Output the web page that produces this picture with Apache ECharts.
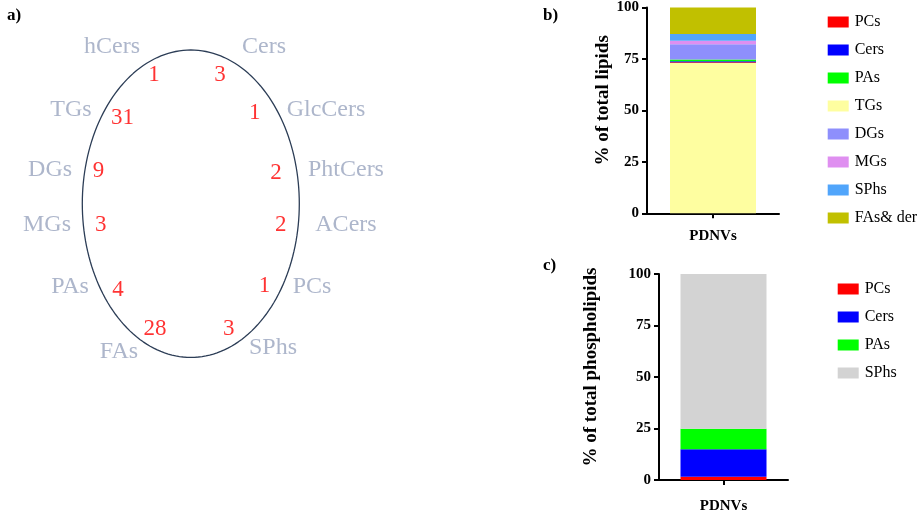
<!DOCTYPE html>
<html>
<head>
<meta charset="utf-8">
<script src="https://cdn.jsdelivr.net/npm/echarts@6/dist/echarts.min.js"></script>
<style>
html,body{margin:0;padding:0;background:#fff;}
#chart{width:920px;height:514px;}
</style>
</head>
<body>
<div id="chart"></div>
<script>
// ---- Data: panel a (lipid class counts) ----
const diagramNames  = ['hCers','Cers','GlcCers','PhtCers','ACers','PCs','SPhs','FAs','PAs','MGs','DGs','TGs'];
const diagramCounts = [1, 3, 1, 2, 2, 1, 3, 28, 4, 3, 9, 31];

// ---- Data: panel b (% of total lipids) ----
const lipidClasses = ['PCs','Cers','PAs','TGs','DGs','MGs','SPhs','FAs& der'];
const lipidPercent = [0.4, 0.5, 0.8, 73.0, 7.4, 1.8, 3.2, 12.9];

// ---- Data: panel c (% of total phospholipids) ----
const phosphoClasses = ['PCs','Cers','PAs','SPhs'];
const phosphoPercent = [1.6, 13.3, 10.0, 75.1];

const sampleCategory = ['PDNVs'];
const yTicks = [0, 25, 50, 75, 100];

// ---- Layout / style (not data) ----
// normalized positions around the unit ellipse (x right, y down)
const nameLayout = [[-0.726,-1.02],[0.675,-1.02],[1.246,-0.61],[1.43,-0.219],[1.43,0.139],[1.118,0.542],
                    [0.758,0.939],[-0.662,0.965],[-1.113,0.542],[-1.325,0.139],[-1.297,-0.219],[-1.104,-0.61]];
const countLayout = [[-0.34,-0.84],[0.27,-0.84],[0.59,-0.59],[0.785,-0.20],[0.83,0.14],[0.68,0.535],
                     [0.35,0.815],[-0.33,0.815],[-0.67,0.56],[-0.83,0.14],[-0.85,-0.21],[-0.63,-0.56]];
const stackOrderB = ['TGs','PCs','Cers','PAs','DGs','MGs','SPhs','FAs& der'];
const colorsB = {'PCs':'#ff0000','Cers':'#0000ff','PAs':'#00ff00','TGs':'#fefea0','DGs':'#8e8ffc',
                 'MGs':'#df8ff0','SPhs':'#51a5fb','FAs& der':'#c1c000'};
const colorsC = {'PCs':'#ff0000','Cers':'#0000ff','PAs':'#00ff00','SPhs':'#d3d3d3'};

const SERIF = 'Liberation Serif, Times New Roman, serif';

const ellipsePts = [];
for (let i = 0; i <= 180; i++) {
  const t = i / 180 * Math.PI * 2;
  ellipsePts.push([Math.cos(t), Math.sin(t)]);
}

const nameData = diagramNames.map((n, i) => [nameLayout[i][0], nameLayout[i][1], n]);
const countData = diagramCounts.map((c, i) => [countLayout[i][0], countLayout[i][1], String(c)]);

function valueAxis(gridIndex, nameText, nameGap) {
  return {
    gridIndex, type: 'value', min: 0, max: 100, interval: 25,
    axisLine: {show: true, lineStyle: {color: '#000', width: 2}},
    axisTick: {show: true, length: 5, lineStyle: {color: '#000', width: 2}},
    splitLine: {show: false},
    axisLabel: {color: '#000', fontFamily: SERIF, fontWeight: 'bold', fontSize: 15, margin: 8},
    name: nameText, nameLocation: 'middle', nameGap: nameGap, nameRotate: 90,
    nameTextStyle: {color: '#000', fontFamily: SERIF, fontWeight: 'bold', fontSize: 19, padding: [0,0,0,20]}
  };
}
function catAxis(gridIndex, margin) {
  return {
    gridIndex, type: 'category', data: sampleCategory,
    axisLine: {show: true, lineStyle: {color: '#000', width: 2}},
    axisTick: {show: true, alignWithLabel: true, length: 5, lineStyle: {color: '#000', width: 2}},
    axisLabel: {color: '#000', fontFamily: SERIF, fontWeight: 'bold', fontSize: 15, margin: margin}
  };
}
function legend(names, colors, left, top) {
  return {
    orient: 'vertical', left, top, itemWidth: 21, itemHeight: 11, itemGap: 12,
    selectedMode: false, icon: 'rect',
    data: names.map(n => ({name: n, itemStyle: {color: colors[n]}})),
    textStyle: {color: '#000', fontFamily: SERIF, fontSize: 16, padding: [0,0,0,1]}
  };
}

const series = [];
series.push({
  type: 'line', xAxisIndex: 0, yAxisIndex: 0, data: ellipsePts, showSymbol: false, symbol: 'none',
  lineStyle: {color: '#2c3d56', width: 1.3}, silent: true
});
series.push({
  type: 'scatter', xAxisIndex: 0, yAxisIndex: 0, data: nameData, symbolSize: 1,
  itemStyle: {color: 'transparent'},
  label: {show: true, position: 'inside', formatter: p => p.data[2], color: '#98a4be',
          fontFamily: SERIF, fontSize: 24, align: 'center', verticalAlign: 'middle'}
});
series.push({
  type: 'scatter', xAxisIndex: 0, yAxisIndex: 0, data: countData, symbolSize: 1,
  itemStyle: {color: 'transparent'},
  label: {show: true, position: 'inside', formatter: p => p.data[2], color: '#ff0000',
          fontFamily: SERIF, fontSize: 23, align: 'center', verticalAlign: 'middle'}
});
stackOrderB.forEach(n => {
  series.push({
    name: n, type: 'bar', xAxisIndex: 1, yAxisIndex: 1, stack: 'b', barWidth: 86,
    data: [lipidPercent[lipidClasses.indexOf(n)]], itemStyle: {color: colorsB[n]}
  });
});
phosphoClasses.forEach((n, i) => {
  series.push({
    name: n, type: 'bar', xAxisIndex: 2, yAxisIndex: 2, stack: 'c', barWidth: 86,
    data: [phosphoPercent[i]], itemStyle: {color: colorsC[n]}
  });
});

const option = {
  animation: false,
  backgroundColor: '#fff',
  title: [
    {text: 'a)', left: 2, top: 2, textStyle: {fontFamily: SERIF, fontWeight: 'bold', fontSize: 17, color: '#000'}},
    {text: 'b)', left: 538, top: 2, textStyle: {fontFamily: SERIF, fontWeight: 'bold', fontSize: 17, color: '#000'}},
    {text: 'c)', left: 538, top: 252, textStyle: {fontFamily: SERIF, fontWeight: 'bold', fontSize: 17, color: '#000'}}
  ],
  grid: [
    {left: 6.35, top: 3.9, width: 368.9, height: 399.6},
    {left: 647, top: 6.7, width: 132, height: 206.6},
    {left: 659, top: 274, width: 129, height: 208.7}
  ],
  xAxis: [
    {gridIndex: 0, type: 'value', min: -1.7, max: 1.7, show: false},
    catAxis(1, 15),
    catAxis(2, 19)
  ],
  yAxis: [
    {gridIndex: 0, type: 'value', min: -1.3, max: 1.3, inverse: true, show: false},
    valueAxis(1, '% of total lipids', 32),
    valueAxis(2, '% of total phospholipids', 58)
  ],
  legend: [
    legend(lipidClasses, colorsB, 822.7, 9),
    legend(phosphoClasses, colorsC, 832.7, 276)
  ],
  series
};

const chart = echarts.init(document.getElementById('chart'), null, {renderer: 'canvas'});
chart.setOption(option);
</script>
</body>
</html>
